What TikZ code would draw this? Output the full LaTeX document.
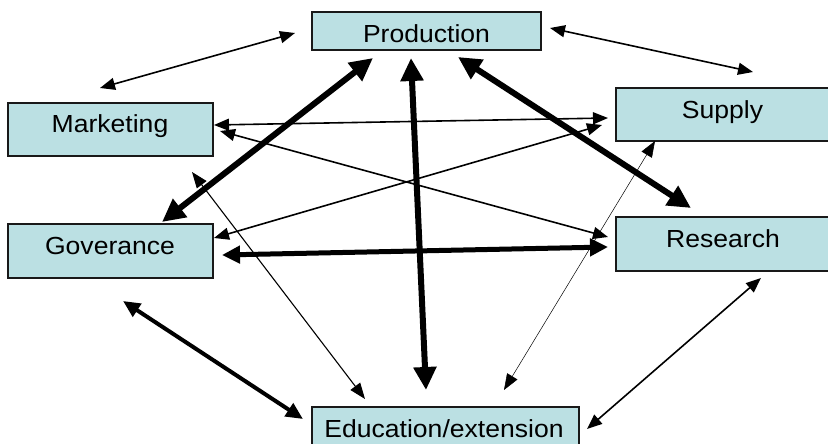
\documentclass[tikz,border=0pt]{standalone}
\usepackage{fontspec}
\usetikzlibrary{arrows.meta}
\newfontfamily\boxfont{Liberation Sans}[FakeStretch=1.075]
\definecolor{boxfill}{RGB}{187,224,227}
\definecolor{boxline}{RGB}{25,25,25}
\tikzset{
  x=1pt, y=-1pt,
  stagebox/.style={draw=boxline, line width=1.8pt, fill=boxfill, inner sep=0pt},
  stagetext/.style={anchor=base, inner sep=0pt, font=\boxfont\fontsize{24.7}{28}\selectfont},
  thinlink/.style={line width=1.6pt, {Triangle[length=15pt,width=12pt]}-{Triangle[length=15pt,width=12pt]}},
  finelink/.style={line width=1.1pt, {Triangle[length=16pt,width=12pt]}-{Triangle[length=16pt,width=12pt]}},
  hairlink/.style={line width=0.5pt, {Triangle[length=16pt,width=12pt]}-{Triangle[length=16pt,width=12pt]}},
  midlink/.style={line width=4pt, {Triangle[length=17pt,width=15pt]}-{Triangle[length=17pt,width=15pt]}},
  heavylink/.style={line width=5pt, {Triangle[length=18pt,width=17pt]}-{Triangle[length=18pt,width=17pt]}},
  boldlink/.style={line width=6pt, {Triangle[length=23pt,width=22pt]}-{Triangle[length=23pt,width=22pt]}},
}
\begin{document}
\begin{tikzpicture}
\useasboundingbox (0,0) rectangle (828,444);
\clip (0,0) rectangle (828,444);

% stage boxes
\node[stagebox, minimum width=229pt, minimum height=38pt] (production) at (426.5,31) {};
\node[stagebox, minimum width=205pt, minimum height=53pt] (marketing) at (110.5,129.5) {};
\node[stagebox, minimum width=216pt, minimum height=53pt] (supply) at (724,114.5) {};
\node[stagebox, minimum width=205pt, minimum height=54pt] (goverance) at (110.5,251) {};
\node[stagebox, minimum width=216pt, minimum height=54pt] (research) at (724,244) {};
\node[stagebox, minimum width=267pt, minimum height=46pt] (education) at (445.5,430) {};

% stage names
\node[stagetext] (productiontxt) at (426.5,42.7) {Production};
\node[stagetext] (marketingtxt) at (110,132) {Marketing};
\node[stagetext] (supplytxt) at (722.5,118) {Supply};
\node[stagetext] (goverancetxt) at (110,254) {Goverance};
\node[stagetext] (researchtxt) at (723,247) {Research};
\node[stagetext] (educationtxt) at (444,437) {Education/extension};

% connector end points
\coordinate (mp-m) at (100,88);   \coordinate (mp-p) at (295,33);
\coordinate (ps-p) at (550,28);   \coordinate (ps-s) at (753,72);
\coordinate (gp-g) at (162,222);  \coordinate (gp-p) at (373,58);
\coordinate (pr-p) at (458,57);   \coordinate (pr-r) at (691,208);
\coordinate (pe-p) at (411,58);   \coordinate (pe-e) at (426,390);
\coordinate (gr-g) at (222,255);  \coordinate (gr-r) at (608,247);
\coordinate (ge-g) at (123,301);  \coordinate (ge-e) at (303,419);
\coordinate (re-r) at (761,278);  \coordinate (re-e) at (587,429);
\coordinate (ms-m) at (214,125);  \coordinate (ms-s) at (608,118);
\coordinate (mr-m) at (220,131);  \coordinate (mr-r) at (608,237);
\coordinate (gs-g) at (214,238);  \coordinate (gs-s) at (602,125);
\coordinate (me-m) at (192,172);  \coordinate (me-e) at (365,399);
\coordinate (se-s) at (655,141);  \coordinate (se-e) at (504,390);

% links between stages
\draw[thinlink]  (mp-m) -- (mp-p);
\draw[thinlink]  (ps-p) -- (ps-s);
\draw[thinlink]  (ms-m) -- (ms-s);
\draw[thinlink]  (mr-m) -- (mr-r);
\draw[thinlink]  (gs-g) -- (gs-s);
\draw[thinlink]  (re-r) -- (re-e);
\draw[finelink]  (me-m) -- (me-e);
\draw[hairlink]  (se-s) -- (se-e);
\draw[midlink]   (ge-g) -- (ge-e);
\draw[heavylink] (gr-g) -- (gr-r);
\draw[boldlink]  (gp-g) -- (gp-p);
\draw[boldlink]  (pr-p) -- (pr-r);
\draw[boldlink]  (pe-p) -- (pe-e);
\end{tikzpicture}
\end{document}
